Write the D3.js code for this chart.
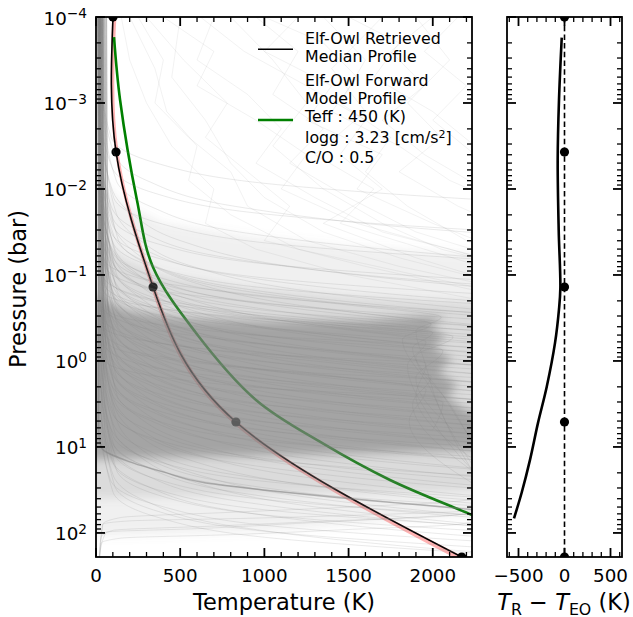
<!DOCTYPE html>
<html>
<head>
<meta charset="utf-8">
<script src="https://cdn.jsdelivr.net/npm/d3@7"></script>
<style>
  body { margin: 0; background: #fff; }
  svg { display: block; }
  text { font-family: "DejaVu Sans", sans-serif; fill: #000; }
</style>
</head>
<body>
<svg id="chart" width="633" height="617"></svg>
<script>
// ---------- retrieved P-T nodes (log10 P [bar], T [K]); the median profile is a spline through them ----------
const nodeLogP   = [-4, -2.43, -0.86, 0.71, 2.28];
const nodeT      = [101, 119, 339, 831, 2172];
const nodeLowT   = [96, 113, 326, 806, 2120];
const nodeHighT  = [121, 134, 352, 845, 2185];
const nodeOffset = [0, 0, 0, 0, 0];

// ---------- Elf-Owl forward model profile ----------
const modelLogP = [-3.767, -3.035, -1.872, -1.093, -0.326, 0.453, 0.953, 1.384, 1.791, 2.08];
const modelT    = [107, 143, 243, 338, 594, 950, 1342, 1746, 2233, 2577];

// ---------- retrieved minus forward model ----------
const diffLogP = [-3.76, -3.03, -2.34, -1.52, -0.85, -0.6, -0.21, 0.30, 0.72, 1.15, 1.53, 1.83];
const diffT    = [-30, -60, -74, -63, -45, -60, -103, -193, -288, -375, -465, -549];

// ---------- posterior samples, flat [log10 P, T, log10 P, T, ...] ----------
const sampleProfiles = [
  [-4,18,-3.4,24,-2.6,90,-2.3,360,-2.05,1080,-1.88,2250,-1.8,3000],
  [-4,28,-3.2,34,-2.4,110,-2.1,300,-1.8,820,-1.5,2200,-1.4,3000],
  [-4,10,-3.05,16,-2.25,95,-1.95,350,-1.7,1050,-1.53,2200,-1.45,3000],
  [-4,42,-2.9,48,-2.1,120,-1.8,320,-1.5,850,-1.2,2300,-1.1,3000],
  [-4,21,-2.8,27,-2.0,95,-1.7,220,-1.4,500,-1.1,1150,-0.9,2050,-0.75,3000],
  [-4,32,-2.7,38,-1.9,105,-1.6,380,-1.35,1120,-1.18,2300,-1.1,3000],
  [-4,14,-2.6,20,-1.8,90,-1.5,270,-1.2,780,-0.9,2200,-0.8,3000],
  [-4,49,-2.52,55,-1.72,120,-1.42,250,-1.12,540,-0.82,1230,-0.62,2150,-0.47,3000],
  [-4,25,-2.46,31,-1.66,100,-1.36,370,-1.11,1100,-0.94,2300,-0.86,3000],
  [-4,18,-2.4,24,-1.6,95,-1.3,280,-1.0,800,-0.7,2240,-0.6,3000],
  [-4,35,-2.35,41,-1.55,110,-1.25,240,-0.95,520,-0.65,1200,-0.45,2100,-0.3,3000],
  [-4,14,-2.3,20,-1.5,90,-1.2,360,-0.95,1080,-0.78,2280,-0.7,3000],
  [-4,28,-2.26,34,-1.46,105,-1.16,290,-0.86,810,-0.56,2250,-0.46,3000],
  [-4,60,-2.22,66,-1.42,130,-1.12,320,-0.82,860,-0.52,2300,-0.42,3000],
  [-4,21,-2.18,27,-1.38,100,-1.08,370,-0.83,1100,-0.66,2300,-0.58,3000],
  [-4,10,-2.15,16,-1.35,85,-1.05,220,-0.75,500,-0.45,1180,-0.25,2080,-0.1,3000],
  [-4,39,-2.11,45,-1.31,110,-1.01,290,-0.71,820,-0.41,2250,-0.31,3000],
  [-4,18,-2.08,24,-1.28,95,-0.98,360,-0.73,1080,-0.56,2270,-0.48,3000],
  [-4,46,-2.05,52,-1.25,115,-0.95,300,-0.65,840,-0.35,2260,-0.25,3000],
  [-4,25,-2.02,31,-1.22,100,-0.92,230,-0.62,520,-0.32,1200,-0.12,2100,0.03,3000],
  [-4,32,-2.0,38,-1.2,105,-0.9,380,-0.65,1120,-0.48,2300,-0.4,3000],
  [-4,14,-1.98,20,-1.18,90,-0.88,270,-0.58,790,-0.28,2220,-0.18,3000],
  [-4,21,-1.95,27,-1.15,100,-0.85,285,-0.55,810,-0.25,2250,-0.15,3000],
  [-4,39,-1.92,45,-1.12,110,-0.82,370,-0.57,1100,-0.4,2300,-0.32,3000],
  [-4,14,-1.88,20,-1.08,90,-0.78,230,-0.48,520,-0.18,1200,0.02,2100,0.17,3000],
  [-4,32,-1.85,38,-1.05,105,-0.75,285,-0.45,810,-0.15,2250,-0.05,3000],
  [-4,53,-1.82,59,-1.02,120,-0.72,370,-0.47,1100,-0.3,2300,-0.22,3000],
  [-4,25,-1.78,31,-0.98,100,-0.68,230,-0.38,520,-0.08,1200,0.12,2100,0.27,3000],
  [-4,10,-1.75,16,-0.95,85,-0.65,285,-0.35,810,-0.05,2250,0.05,3000],
  [-4,42,-1.72,48,-0.92,110,-0.62,370,-0.37,1100,-0.2,2300,-0.12,3000],
  [-4,28,-1.68,34,-0.88,100,-0.58,230,-0.28,520,0.02,1200,0.22,2100,0.37,3000],
  [-4,18,-1.65,24,-0.85,90,-0.55,285,-0.25,810,0.05,2250,0.15,3000],
  [-4,63,-1.62,69,-0.82,125,-0.52,370,-0.27,1100,-0.1,2300,-0.02,3000],
  [-4,35,-1.58,41,-0.78,105,-0.48,230,-0.18,520,0.12,1200,0.32,2100,0.47,3000],
  [-4,21,-1.55,27,-0.75,100,-0.45,285,-0.15,810,0.15,2250,0.25,3000],
  [-4,39,-1.52,45,-0.72,110,-0.42,370,-0.17,1100,0.0,2300,0.08,3000],
  [-4,14,-1.48,20,-0.68,90,-0.38,230,-0.08,520,0.22,1200,0.42,2100,0.57,3000],
  [-4,32,-1.45,38,-0.65,105,-0.35,285,-0.05,810,0.25,2250,0.35,3000],
  [-4,53,-1.42,59,-0.62,120,-0.32,370,-0.07,1100,0.1,2300,0.18,3000],
  [-4,25,-1.38,31,-0.58,100,-0.28,230,0.02,520,0.32,1200,0.52,2100,0.67,3000],
  [-4,10,-1.35,16,-0.55,85,-0.25,285,0.05,810,0.35,2250,0.45,3000],
  [-4,42,-1.32,48,-0.52,110,-0.22,370,0.03,1100,0.2,2300,0.28,3000],
  [-4,28,-1.28,34,-0.48,100,-0.18,230,0.12,520,0.42,1200,0.62,2100,0.77,3000],
  [-4,18,-1.25,24,-0.45,90,-0.15,285,0.15,810,0.45,2250,0.55,3000],
  [-4,63,-1.22,69,-0.42,125,-0.12,370,0.13,1100,0.3,2300,0.38,3000],
  [-4,35,-1.18,41,-0.38,105,-0.08,230,0.22,520,0.52,1200,0.72,2100,0.87,3000],
  [-4,21,-1.15,27,-0.35,100,-0.05,285,0.25,810,0.55,2250,0.65,3000],
  [-4,39,-1.12,45,-0.32,110,-0.02,370,0.23,1100,0.4,2300,0.48,3000],
  [-4,14,-1.08,20,-0.28,90,0.02,230,0.32,520,0.62,1200,0.82,2100,0.97,3000],
  [-4,32,-1.05,38,-0.25,105,0.05,285,0.35,810,0.65,2250,0.75,3000],
  [-4,53,-1.02,59,-0.22,120,0.08,370,0.33,1100,0.5,2300,0.58,3000],
  [-4,25,-0.98,31,-0.18,100,0.12,230,0.42,520,0.72,1200,0.92,2100,1.07,3000],
  [-4,10,-0.95,16,-0.15,85,0.15,285,0.45,810,0.75,2250,0.85,3000],
  [-4,42,-0.92,48,-0.12,110,0.18,370,0.43,1100,0.6,2300,0.68,3000],
  [-4,28,-0.88,34,-0.08,100,0.22,230,0.52,520,0.82,1200,1.02,2100,1.17,3000],
  [-4,18,-0.85,24,-0.05,90,0.25,285,0.55,810,0.85,2250,0.95,3000],
  [-4,63,-0.82,69,-0.02,125,0.28,370,0.53,1100,0.7,2300,0.78,3000],
  [-4,35,-0.78,41,0.02,105,0.32,230,0.62,520,0.92,1200,1.12,2100,1.27,3000],
  [-4,21,-0.75,27,0.05,100,0.35,285,0.65,810,0.95,2250,1.05,3000],
  [-4,39,-0.72,45,0.08,110,0.38,370,0.63,1100,0.8,2300,0.88,3000],
  [-4,14,-0.68,20,0.12,90,0.42,230,0.72,520,1.02,1200,1.22,2100,1.37,3000],
  [-4,32,-0.65,38,0.15,105,0.45,285,0.75,810,1.05,2250,1.15,3000],
  [-4,53,-0.62,59,0.18,120,0.48,370,0.73,1100,0.9,2300,0.98,3000],
  [-4,25,-0.58,31,0.22,100,0.52,230,0.82,520,1.12,1200,1.32,2100,1.47,3000],
  [-4,10,-0.55,16,0.25,85,0.55,285,0.85,810,1.15,2250,1.25,3000],
  [-4,42,-0.52,48,0.28,110,0.58,370,0.83,1100,1.0,2300,1.08,3000],
  [-4,28,-0.48,34,0.32,100,0.62,230,0.92,520,1.22,1200,1.42,2100,1.57,3000],
  [-4,18,-0.44,24,0.36,90,0.66,285,0.96,810,1.26,2250,1.36,3000],
  [-4,63,-0.4,69,0.4,125,0.7,370,0.95,1100,1.12,2300,1.2,3000],
  [-4,35,-0.36,41,0.44,105,0.74,230,1.04,520,1.34,1200,1.54,2100,1.69,3000],
  [-4,21,-0.32,27,0.48,100,0.78,285,1.08,810,1.38,2250,1.48,3000],
  [-4,39,-0.27,45,0.53,110,0.83,230,1.13,520,1.43,1200,1.63,2100,1.78,3000],
  [-4,14,-0.22,20,0.58,90,0.88,285,1.18,810,1.48,2250,1.58,3000],
  [-4,32,-0.18,38,0.62,105,0.92,370,1.17,1100,1.34,2300,1.42,3000],
  [-4,53,-0.13,59,0.67,120,0.97,230,1.27,520,1.57,1200,1.77,2100,1.92,3000],
  [-4,25,-0.08,31,0.72,100,1.02,285,1.32,810,1.62,2250,1.72,3000],
  [-4,10,-0.03,16,0.77,85,1.07,230,1.37,520,1.67,1200,1.87,2100,2.02,3000],
  [-4,42,0.02,48,0.82,110,1.12,285,1.42,810,1.72,2250,1.82,3000],
  [-4,28,0.07,34,0.87,100,1.17,370,1.42,1100,1.59,2300,1.67,3000],
  [-4,18,0.12,24,0.92,90,1.22,285,1.52,810,1.82,2250,1.92,3000],
  [-4,35,0.17,41,0.97,105,1.27,370,1.52,1100,1.69,2300,1.77,3000],
  [-4,21,0.22,27,1.02,100,1.32,285,1.62,810,1.92,2250,2.02,3000],
  [-4,39,0.28,45,1.08,110,1.38,370,1.63,1100,1.8,2300,1.88,3000],
  [-4,14,0.34,20,1.14,90,1.44,285,1.74,810,2.04,2250,2.14,3000],
  [-4,32,0.4,38,1.2,105,1.5,370,1.75,1100,1.92,2300,2.0,3000],
  [-4,53,0.46,59,1.26,120,1.56,370,1.81,1100,1.98,2300,2.06,3000],
  [-4,25,0.52,31,1.32,100,1.62,285,1.92,810,2.22,2250,2.32,3000],
  [-4,10,0.58,16,1.38,85,1.68,370,1.93,1100,2.1,2300,2.18,3000],
  [-4,42,0.65,48,1.45,110,1.75,370,2.0,1100,2.17,2300,2.25,3000],
  [-4,28,0.72,34,1.52,100,1.82,370,2.07,1100,2.24,2300,2.32,3000]
];
// samples that level off near 2000 K
const plateauProfiles = [
  [-4,21,-1.2,45,-0.95,280,-0.8,800,-0.65,1500,-0.51,2050,-0.35,1900,0.0,1950,0.6,2050,1.4,2300,2.3,2600],
  [-4,32,-1.1,60,-0.85,300,-0.7,850,-0.56,1550,-0.43,1990,-0.25,1820,0.3,1980,1.0,2150,2.0,2500],
  [-4,14,-1.0,40,-0.75,260,-0.6,780,-0.46,1450,-0.33,2000,-0.15,1880,0.4,2060,1.3,2350],
  [-4,42,-0.95,75,-0.7,330,-0.55,880,-0.41,1600,-0.28,2120,-0.05,1900,0.5,2100,1.2,2300],
  [-4,25,-0.9,50,-0.65,280,-0.5,820,-0.36,1500,-0.22,1960,0.05,1850,0.7,2000,1.6,2400],
  [-4,53,-0.8,90,-0.55,340,-0.4,900,-0.26,1600,-0.12,2060,0.2,1900,0.8,2120],
  [-4,10,-0.65,35,-0.4,250,-0.25,760,-0.11,1420,0.03,1960,0.4,1900,1.2,2280],
  [-4,21,-0.5,45,-0.25,270,-0.1,800,0.04,1480,0.18,1990,0.5,1880,1.3,2250],
  [-4,18,-0.35,45,-0.1,260,0.05,780,0.19,1450,0.33,1960,0.7,1860,1.5,2300],
  [-4,25,-0.2,50,0.05,280,0.2,810,0.34,1500,0.48,2060,0.8,2000]
];
// samples that cool again at depth
const invertedProfiles = [
  [-4,21,-0.8,50,-0.5,900,-0.3,2500,1.6,2600,1.77,2240,1.83,1781,1.89,1190,1.95,600,1.99,60,2.28,20],
  [-4,32,-0.6,70,-0.3,950,-0.1,2500,1.5,2600,1.74,2240,1.79,1600,1.83,900,1.86,200,1.9,40,2.28,20],
  [-4,18,-0.4,45,-0.1,850,0.1,2450,1.6,2550,1.8,2100,1.86,1400,1.92,700,1.97,100,2.05,30,2.28,20],
  [-4,42,-0.2,80,0.1,1000,0.3,2500,1.4,2600,1.62,2200,1.7,1500,1.76,800,1.82,150,1.9,40,2.28,25],
  [-4,25,0.0,60,0.3,900,0.5,2450,1.7,2500,1.9,2150,1.96,1500,2.02,800,2.06,150,2.12,30,2.28,20]
];
const ridgeProfile = [-4,20,0.8,15,1.0,30,1.17,196,1.29,398,1.42,653,1.5,992,1.58,1383,1.65,1781,1.73,2240,1.8,2600];
// samples with a hot, irregular upper atmosphere
const upperProfiles = [
  [-4,620,-3.6,880,-3.2,1250,-2.8,1600,-2.4,1450,-2.0,1700,-1.6,1350,-1.2,1900,-0.9,2400],
  [-4,1500,-3.7,1800,-3.3,1650,-2.9,2000,-2.5,2250],
  [-4,300,-3.5,520,-3.0,780,-2.6,650,-2.2,900,-1.8,1150,-1.4,1000,-1.1,1600,-0.8,2300],
  [-4,950,-3.6,1200,-3.1,1050,-2.7,1350,-2.3,1150,-1.9,1500,-1.5,1900,-1.2,2400],
  [-4,1900,-3.5,2100,-3.0,1850,-2.6,2050,-2.2,1800,-1.8,2150,-1.5,2500],
  [-4,200,-3.4,350,-2.9,420,-2.5,600,-2.1,550,-1.7,800,-1.3,1200,-1.0,1900,-0.8,2400],
  [-4,1200,-3.6,1000,-3.2,1400,-2.8,1250,-2.4,1700,-2.0,1550,-1.6,2000,-1.3,2400],
  [-4,700,-3.5,600,-3.1,900,-2.7,1100,-2.3,950,-1.9,1300,-1.5,1700,-1.2,2300],
  [-4,2150,-3.6,1950,-3.2,2200,-2.8,2000,-2.4,2250],
  [-4,400,-3.6,700,-3.2,600,-2.8,950,-2.4,1250,-2.0,1100,-1.6,1550,-1.3,2100,-1.1,2450],
  [-4,1700,-3.4,1400,-2.9,1600,-2.4,1300,-2.0,1650,-1.6,1450,-1.3,1950,-1.0,2450],
  [-4,150,-3.5,200,-3.0,300,-2.5,450,-2.0,700,-1.6,650,-1.3,950,-1.0,1500,-0.7,2300],
  [-4,1000,-3.7,1350,-3.3,1550,-2.9,1400,-2.5,1800,-2.1,2100,-1.8,2450],
  [-4,500,-3.3,450,-2.8,650,-2.3,800,-1.9,1000,-1.5,1350,-1.2,1800,-0.9,2400],
  [-4,1350,-3.5,1600,-3.0,1450,-2.6,1750,-2.2,1600,-1.8,1850,-1.4,2200,-1.2,2450],
  [-4,250,-3.5,400,-3.0,350,-2.6,550,-2.2,800,-1.8,900,-1.4,1250,-1.1,1800,-0.85,2400],
  [-4,800,-3.5,1050,-3.0,1250,-2.5,1050,-2.0,1350,-1.6,1700,-1.3,2050,-1.1,2450],
  [-4,2000,-3.6,1750,-3.2,1950,-2.8,1700,-2.4,1950,-2.0,2300]
];

// ---------- sample density envelopes [T, log10 P] ----------
const hazeOuter  = [[-200,-2.3],[0,-2.2],[150,-1.85],[400,-1.6],[900,-1.45],[1500,-1.33],[2600,-1.2],
                    [2600,1.75],[1800,1.85],[1000,1.98],[-200,2.05]];
const hazeMiddle = [[-200,-1.6],[0,-1.55],[150,-1.2],[400,-1.0],[900,-0.85],[1500,-0.75],[2600,-0.65],
                    [2600,1.5],[1000,1.55],[-200,1.6]];
const hazeCore   = [[-200,-0.8],[0,-0.75],[200,-0.58],[500,-0.5],[1000,-0.46],[1600,-0.47],[1950,-0.52],
                    [2080,-0.51],[1980,-0.4],[2080,-0.28],[2000,-0.16],[2120,-0.02],[2030,0.12],[2150,0.28],
                    [2080,0.42],[2200,0.58],[2600,0.72],[2600,1.02],[1500,1.08],[500,1.12],[-200,1.15]];

// ---------- axis ticks ----------
const tempTicks      = [0, 500, 1000, 1500, 2000];
const tempTickLabels = ["0", "500", "1000", "1500", "2000"];
const pressureTicks  = [1e-4, 1e-3, 1e-2, 1e-1, 1, 10, 100];
const pressureExps   = ["\u22124", "\u22123", "\u22122", "\u22121", "0", "1", "2"];
const diffTicks      = [-500, 0, 500];
const diffTickLabels = ["\u2212500", "0", "500"];

// ---------- layout ----------
const svg = d3.select("#chart");
const L = { x0: 96, x1: 472, y0: 17, y1: 557 };
const R = { x0: 507, x1: 622 };

const x  = d3.scaleLinear().domain([0, 2233]).range([L.x0, L.x1]);
const y  = d3.scaleLog().domain([1e-4, 190.5]).range([L.y0, L.y1]);
const xd = d3.scaleLinear().domain([-625, 625]).range([R.x0, R.x1]);
const P  = lp => Math.pow(10, lp);

const defs = svg.append("defs");
defs.append("clipPath").attr("id", "clipL").append("rect")
  .attr("x", L.x0).attr("y", L.y0).attr("width", L.x1 - L.x0).attr("height", L.y1 - L.y0);
defs.append("clipPath").attr("id", "clipR").append("rect")
  .attr("x", R.x0).attr("y", L.y0).attr("width", R.x1 - R.x0).attr("height", L.y1 - L.y0);
defs.append("filter").attr("id", "soft").attr("x", "-10%").attr("y", "-10%").attr("width", "120%").attr("height", "120%")
  .append("feGaussianBlur").attr("stdDeviation", 5);

const pairs = arr => d3.range(0, arr.length, 2).map(i => [arr[i + 1], P(arr[i])]);
const splineLine = d3.line().x(d => x(d[0])).y(d => y(d[1])).curve(d3.curveNatural);
const smoothLine = d3.line().x(d => x(d[0])).y(d => y(d[1])).curve(d3.curveCatmullRom.alpha(0.5));
const sampleLine = d3.line().x(d => x(d[0])).y(d => y(d[1])).curve(d3.curveMonotoneY);
const kinkLine = d3.line().x(d => x(d[0])).y(d => y(d[1]));
const poly = d3.line().x(d => x(d[0])).y(d => y(P(d[1]))).curve(d3.curveLinearClosed);

// ---------- left panel ----------
const left = svg.append("g").attr("clip-path", "url(#clipL)");

const bandData = nodeLogP.map((lp, i) => ({ p: P(lp), lo: nodeLowT[i], hi: nodeHighT[i] }));
left.append("path").datum(bandData)
  .attr("d", d3.area().y(d => y(d.p)).x0(d => x(d.lo)).x1(d => x(d.hi)).curve(d3.curveNatural))
  .attr("fill", "#ff0000").attr("fill-opacity", 0.3);

left.append("path").datum(nodeLogP.map((lp, i) => [nodeT[i], P(lp)]))
  .attr("d", splineLine).attr("fill", "none").attr("stroke", "#000").attr("stroke-width", 1.6);

left.append("path").datum(modelLogP.map((lp, i) => [modelT[i], P(lp)]))
  .attr("d", smoothLine).attr("fill", "none").attr("stroke", "#008000").attr("stroke-width", 2.6);

left.selectAll(".node").data(nodeLogP.map((lp, i) => [nodeT[i], P(lp)])).join("circle")
  .attr("cx", d => x(d[0])).attr("cy", d => y(d[1])).attr("r", 4.6).attr("fill", "#000");

// sample cloud: soft density envelopes, then individual profiles
const haze = left.append("g").attr("filter", "url(#soft)");
[[hazeOuter, 0.12], [hazeMiddle, 0.2], [hazeCore, 0.6]].forEach(([shape, op]) => {
  haze.append("path").attr("d", poly(shape)).attr("fill", "#808080").attr("fill-opacity", op);
});

left.selectAll(".up").data(upperProfiles).join("path")
  .attr("d", d => kinkLine(pairs(d))).attr("fill", "none")
  .attr("stroke", "#808080").attr("stroke-opacity", 0.1).attr("stroke-width", 1);

const mainSamples = sampleProfiles.concat(plateauProfiles, invertedProfiles);
left.selectAll(".smp").data(mainSamples).join("path")
  .attr("d", d => sampleLine(pairs(d))).attr("fill", "none")
  .attr("stroke", "#808080").attr("stroke-opacity", 0.17).attr("stroke-width", 1);

left.append("path").attr("d", sampleLine(pairs(ridgeProfile))).attr("fill", "none")
  .attr("stroke", "#808080").attr("stroke-opacity", 0.55).attr("stroke-width", 1.4);

// ---------- tick helpers ----------
function xTickLines(scale, values, len, w, y0, y1) {
  values.forEach(v => {
    svg.append("line").attr("x1", scale(v)).attr("x2", scale(v)).attr("y1", y1).attr("y2", y1 - len)
      .attr("stroke", "#000").attr("stroke-width", w);
    svg.append("line").attr("x1", scale(v)).attr("x2", scale(v)).attr("y1", y0).attr("y2", y0 + len)
      .attr("stroke", "#000").attr("stroke-width", w);
  });
}
function yTickLines(values, len, w, xa, xb) {
  values.forEach(v => {
    svg.append("line").attr("x1", xa).attr("x2", xa + len).attr("y1", y(v)).attr("y2", y(v))
      .attr("stroke", "#000").attr("stroke-width", w);
    svg.append("line").attr("x1", xb).attr("x2", xb - len).attr("y1", y(v)).attr("y2", y(v))
      .attr("stroke", "#000").attr("stroke-width", w);
  });
}
const pressureMinor = [];
for (let k = -4; k <= 2; k++) for (let m = 2; m <= 9; m++) {
  const v = m * Math.pow(10, k);
  if (v < 190.5) pressureMinor.push(v);
}

// left frame and ticks
xTickLines(x, d3.range(0, 2233, 100).filter(v => v % 500 !== 0), 5, 1.3, L.y0, L.y1);
xTickLines(x, tempTicks, 9, 1.8, L.y0, L.y1);
yTickLines(pressureMinor, 5, 1.3, L.x0, L.x1);
yTickLines(pressureTicks, 9, 1.8, L.x0, L.x1);
svg.append("rect").attr("x", L.x0).attr("y", L.y0).attr("width", L.x1 - L.x0).attr("height", L.y1 - L.y0)
  .attr("fill", "none").attr("stroke", "#000").attr("stroke-width", 1.8);

svg.selectAll(".xl").data(tempTicks).join("text")
  .attr("x", d => x(d)).attr("y", 582).attr("text-anchor", "middle").attr("font-size", 18.3)
  .text((d, i) => tempTickLabels[i]);

pressureTicks.forEach((p, i) => {
  const t = svg.append("text").attr("x", 87).attr("y", y(p) + 7.5)
    .attr("text-anchor", "end").attr("font-size", 18.3);
  t.append("tspan").text("10");
  t.append("tspan").attr("font-size", 13.7).attr("dy", -6.3).text(pressureExps[i]);
});

svg.append("text").attr("x", (L.x0 + L.x1) / 2).attr("y", 610).attr("text-anchor", "middle")
  .attr("font-size", 22.5).text("Temperature (K)");
svg.append("text").attr("transform", "translate(26,289) rotate(-90)").attr("text-anchor", "middle")
  .attr("font-size", 22.5).text("Pressure (bar)");

// ---------- legend ----------
const lg = svg.append("g").attr("font-size", 15.8);
lg.append("line").attr("x1", 258).attr("x2", 293).attr("y1", 49.3).attr("y2", 49.3)
  .attr("stroke", "#000").attr("stroke-width", 1.6);
lg.append("text").attr("x", 305).attr("y", 44.3).text("Elf-Owl Retrieved");
lg.append("text").attr("x", 305).attr("y", 62.3).text("Median Profile");
lg.append("line").attr("x1", 258).attr("x2", 293).attr("y1", 120).attr("y2", 120)
  .attr("stroke", "#008000").attr("stroke-width", 2.6);
lg.append("text").attr("x", 305).attr("y", 85.7).text("Elf-Owl Forward");
lg.append("text").attr("x", 305).attr("y", 103.7).text("Model Profile");
lg.append("text").attr("x", 305).attr("y", 121.7).text("Teff : 450 (K)");
const lgg = lg.append("text").attr("x", 305).attr("y", 142.7);
lgg.append("tspan").text("logg : 3.23 [cm/s");
lgg.append("tspan").attr("font-size", 11).attr("dy", -4.6).text("2");
lgg.append("tspan").attr("dy", 4.6).text("]");
lg.append("text").attr("x", 305).attr("y", 162.7).text("C/O : 0.5");

// ---------- right panel ----------
const right = svg.append("g").attr("clip-path", "url(#clipR)");
right.append("line").attr("x1", xd(0)).attr("x2", xd(0)).attr("y1", L.y0).attr("y2", L.y1)
  .attr("stroke", "#000").attr("stroke-width", 1.6).attr("stroke-dasharray", "5.5,3.2");
right.append("path").datum(diffLogP.map((lp, i) => [diffT[i], P(lp)]))
  .attr("d", d3.line().x(d => xd(d[0])).y(d => y(d[1])).curve(d3.curveCatmullRom.alpha(0.5)))
  .attr("fill", "none").attr("stroke", "#000").attr("stroke-width", 2.6);
right.selectAll(".rn").data(nodeLogP.map((lp, i) => [nodeOffset[i], P(lp)])).join("circle")
  .attr("cx", d => xd(d[0])).attr("cy", d => y(d[1])).attr("r", 4.6).attr("fill", "#000");

xTickLines(xd, d3.range(-600, 601, 100).filter(v => v % 500 !== 0), 5, 1.3, L.y0, L.y1);
xTickLines(xd, diffTicks, 9, 1.8, L.y0, L.y1);
yTickLines(pressureMinor, 5, 1.3, R.x0, R.x1);
yTickLines(pressureTicks, 9, 1.8, R.x0, R.x1);
svg.append("rect").attr("x", R.x0).attr("y", L.y0).attr("width", R.x1 - R.x0).attr("height", L.y1 - L.y0)
  .attr("fill", "none").attr("stroke", "#000").attr("stroke-width", 1.8);

svg.selectAll(".dl").data(diffTicks).join("text")
  .attr("x", d => xd(d)).attr("y", 582).attr("text-anchor", "middle").attr("font-size", 18.3)
  .text((d, i) => diffTickLabels[i]);

const rl = svg.append("text").attr("x", 564).attr("y", 610).attr("text-anchor", "middle").attr("font-size", 22.5);
rl.append("tspan").attr("font-style", "italic").text("T");
rl.append("tspan").attr("font-size", 15.8).attr("dy", 4.5).text("R");
rl.append("tspan").attr("dy", -4.5).text(" \u2212 ");
rl.append("tspan").attr("font-style", "italic").text("T");
rl.append("tspan").attr("font-size", 15.8).attr("dy", 4.5).text("EO");
rl.append("tspan").attr("dy", -4.5).text(" (K)");
</script>
</body>
</html>
